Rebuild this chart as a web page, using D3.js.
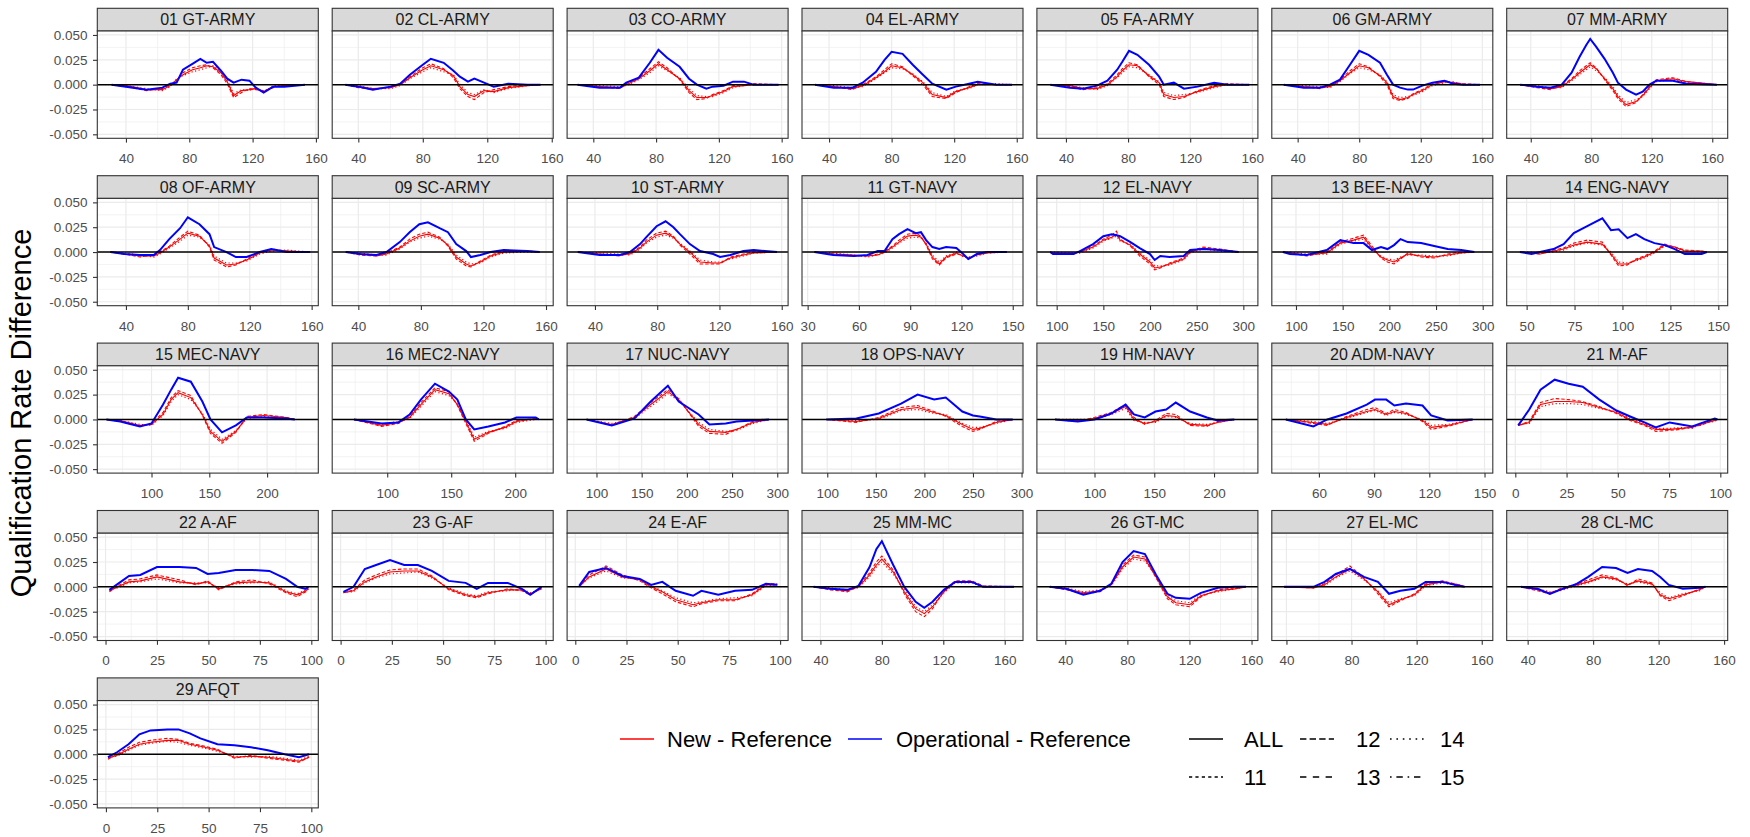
<!DOCTYPE html>
<html>
<head>
<meta charset="utf-8" />
<title>Qualification Rate Difference</title>
<script src="https://cdn.jsdelivr.net/npm/d3@7"></script>
<style>
body { margin: 0; background: #fff; }
svg text { font-family: "Liberation Sans", Arial, sans-serif; }
</style>
</head>
<body>
<svg id="chart" width="1750" height="837"></svg>
<script>
// facet titles
const panelNames = ['01 GT-ARMY','02 CL-ARMY','03 CO-ARMY','04 EL-ARMY','05 FA-ARMY','06 GM-ARMY','07 MM-ARMY',
  '08 OF-ARMY','09 SC-ARMY','10 ST-ARMY','11 GT-NAVY','12 EL-NAVY','13 BEE-NAVY','14 ENG-NAVY',
  '15 MEC-NAVY','16 MEC2-NAVY','17 NUC-NAVY','18 OPS-NAVY','19 HM-NAVY','20 ADM-NAVY','21 M-AF',
  '22 A-AF','23 G-AF','24 E-AF','25 MM-MC','26 GT-MC','27 EL-MC','28 CL-MC','29 AFQT'];

// visible x range of each facet (free scales)
const xLimits = [[21.9,161.5],[23.8,160.9],[23.3,164.1],[22.7,164],[21.3,163.6],[23.2,166.8],[24.1,170.2],
  [21.5,164.3],[23.3,164.6],[22.1,164.1],[26.7,156],[78.8,315.6],[74.1,310.8],[39.6,154.9],
  [53.1,244.3],[57,229.7],[67.5,312],[74,301.5],[51.8,236.7],[34.4,154.5],[-4.2,103.6],
  [-4,103.4],[-4.1,103.7],[-4,103.9],[28,171.9],[21.7,164.1],[31,166.8],[27.2,162.2],[-4.2,103.4]];

const army = [40,80,120,160], pct = [0,25,50,75,100], big = [100,150,200,250,300], mid = [100,150,200];
const xTicks = [army,army,army,army,army,army,army,
  army,army,army,[30,60,90,120,150],big,big,[50,75,100,125,150],
  mid,mid,big,big,mid,[60,90,120,150],pct,
  pct,pct,pct,army,army,army,army,pct];

const yTicks = [-0.05,-0.025,0,0.025,0.05];

// cut scores (x) for each facet
const cutX = [
  [31,40,53,63,68,72,76,82,87,91,95,100,104,108,113,118,122,127,133,140,153],
  [32,40,49,60,66,72,80,85,93,99,103,108,112,118,124,133,145,153],
  [30,44,57,61,69,76,81.5,87,95,101,106,112,116,123,129,136,142,158],
  [31,43,55,61.5,70,75.5,80,87,93.5,100,106,115,121,129.5,135,147,157],
  [30,42.6,51,60,66.7,73,76.3,80.6,86,93.5,100,103,109.5,116,124.7,135.4,144,158],
  [31,44,54.5,61,67.5,74,80,86,93.5,98,102,106.5,111.6,115,121,127.6,135.4,141,147.5,158.5],
  [33,44,53,60.5,67,72.3,76.7,79.3,83.3,88.8,94.3,97.6,103,109.6,114,118.5,123,134,143,163],
  [30,39,49,58,62,68,75,80,87.5,94,97,105,111,118,126.5,134,144,159],
  [32,41,51.6,58,66.5,72.8,79,84.5,92,97.3,102.6,109,112,118,124.6,133,148,156],
  [29,43,56,62.5,69,73,79.6,85.4,90.4,94.6,101,107.5,116,120.4,127,135.4,142,157],
  [34,45,57,65,71,75,79.6,83.5,88.4,93.3,96.3,99.3,103,107,111,117,121,124,129,135,146.5],
  [93,96,118,125,139,150,159,164,168,179,189,200,205,211,221,236,243,257,275,295],
  [86,93.5,111.5,133,147.5,161.6,172.4,181.4,191,198,205,212,219.7,234,248,262.5,277,291],
  [46.5,52.6,57,64,69.3,74.6,81.6,89.5,94,98,102.6,107,111.4,116.7,122,127.3,132.5,141.3,144],
  [61,73,90,100,110,117,123,134,144,151,161,173,182.5,197,216.5,224],
  [74,95.6,108.8,117.5,126.3,137.3,148.2,154.8,161.4,168,179,192,201,216,218.4],
  [89,117,142,160,179,191,213,225,243,255,273,291],
  [99,130,153,176,193,210,222,239,250,257,274,291],
  [67,86,100,114,126,133,142,151,160,168,180,194,203,217],
  [42,57,64.6,75,86,90.5,96.6,101,107.3,116.3,121,130,143.6],
  [1.4,6.8,12.3,19.2,26,32.9,41,49.3,56,63,68.5,75.3,80.8,86.3,90.4,97.3,98.6],
  [1.9,6,11.4,16.9,25,36,44,49.6,55,63.2,71.4,79.6,87.7,93.2,97.3,98.6],
  [1.4,6.3,11.8,17.3,24.1,31,37.7,44.5,52.7,61,66.4,71.9,81.5,88.4,92.5,98],
  [1.9,6.8,15,23,31.5,37,42.5,49,57.5,61.6,69.8,78,86.3,93,98.6],
  [35.6,46.5,57.5,64.8,72,76.4,80,87.4,94.6,102,107.6,113,120.4,127.7,138.5,146,166],
  [30,40.7,51.6,62.4,69.6,76.9,84,91.3,98.5,105.8,111.2,120.2,127.4,138.3,149.2,156.4],
  [38.6,56.6,63.4,70.3,79,87.6,96.2,103,110,118.6,125.5,135.9,146,149.5],
  [36,46,53.6,59.7,70,77,85.5,94,101,107.4,116,121,126.2,134.8,145,148.6],
  [1,5.4,11,16.3,21.7,30,35.3,40.8,46,54.3,62.5,70.6,78.8,87,94,98.9]
];

// Operational - Reference, ALL
const operAll = [
  [0,-.002,-.005,-.003,.001,.002,.015,.021,.026,.022,.023,.014,.006,.002,.005,.004,-.003,-.008,-.002,-.002,0],
  [0,-.002,-.005,-.002,.001,.010,.020,.026,.022,.014,.008,.003,.006,.002,-.002,.001,0,0],
  [0,-.003,-.003,.002,.007,.022,.035,.027,.018,.006,0,-.004,-.002,-.001,.003,.003,0,0],
  [0,-.003,-.003,.002,.013,.025,.033,.031,.020,.010,.001,-.005,-.002,.001,.003,0,0],
  [0,-.003,-.004,-.001,.004,.015,.023,.034,.030,.020,.008,0,.002,-.004,-.002,.002,0,0],
  [0,-.003,-.003,0,.005,.020,.034,.030,.022,.010,0,-.003,-.005,-.005,-.001,.002,.004,.001,0,0],
  [0,-.002,-.003,0,.012,.028,.040,.046,.038,.026,.012,.002,-.005,-.010,-.007,0,.004,.004,.001,0],
  [0,-.002,-.003,-.003,.002,.013,.024,.035,.028,.018,.005,0,-.005,-.005,0,.003,0,0],
  [0,-.002,-.003,0,.010,.020,.028,.030,.024,.020,.008,.001,-.005,-.003,0,.002,.001,0],
  [0,-.003,-.003,0,.008,.015,.026,.031,.025,.018,.008,.001,-.002,-.005,-.003,.001,.002,0],
  [0,-.003,-.004,-.003,.001,.001,.013,.018,.023,.019,.020,.012,.005,.003,.005,.004,-.002,-.007,-.002,0,0],
  [0,-.002,-.002,.001,.008,.016,.018,.017,.016,.010,.004,-.002,-.008,-.004,-.005,-.004,.002,.003,.002,0],
  [0,-.002,-.003,.002,.012,.009,.009,.002,.005,.003,.007,.013,.010,.009,.006,.003,.002,0],
  [0,-.002,0,.003,.008,.019,.026,.034,.022,.023,.014,.018,.013,.009,.007,.003,-.002,-.002,0],
  [0,-.002,-.007,-.004,.015,.030,.042,.038,.018,0,-.013,-.006,.002,.002,.001,0],
  [0,-.004,-.003,.005,.020,.036,.028,.020,0,-.010,-.007,-.003,.002,.002,0],
  [0,-.006,.001,.018,.034,.018,.005,-.005,-.004,-.002,-.001,0],
  [0,.001,.006,.016,.025,.020,.022,.008,.004,.003,0,0],
  [0,-.002,0,.006,.015,.005,.002,.008,.010,.017,.008,.002,-.001,0],
  [0,-.007,0,.006,.015,.020,.020,.014,.016,.014,.004,-.001,0],
  [-.006,.010,.030,.040,.036,.033,.020,.009,.003,-.003,-.008,-.003,-.005,-.007,-.004,.001,0],
  [-.003,.003,.011,.012,.020,.020,.019,.013,.014,.017,.017,.016,.008,0,-.002,0],
  [-.005,0,.018,.022,.027,.022,.022,.016,.006,.004,-.002,.004,.004,-.002,-.008,0],
  [.001,.015,.019,.011,.008,.002,.005,-.004,-.009,-.004,-.008,-.004,-.003,.003,.002],
  [0,-.002,-.003,.001,.020,.038,.046,.022,0,-.015,-.021,-.015,-.003,.005,.005,0,0],
  [0,-.002,-.008,-.004,.003,.025,.036,.033,.012,-.007,-.011,-.012,-.006,-.001,0,0],
  [0,0,.005,.013,.018,.010,.005,-.007,-.004,-.002,.005,.005,.001,0],
  [0,-.002,-.007,-.003,.003,.010,.020,.019,.014,.018,.016,.010,.002,-.002,-.001,0],
  [-.003,.002,.010,.020,.024,.025,.025,.021,.016,.010,.009,.007,.004,0,-.003,0]
];

// New - Reference, ALL
const newAll = [
  [0,-.001,-.005,-.005,-.001,.005,.010,.015,.017,.019,.018,.012,.003,-.011,-.006,-.005,-.004,-.007,-.002,-.001,0],
  [0,-.002,-.004,-.003,0,.007,.015,.019,.015,.009,-.002,-.010,-.012,-.006,-.007,-.003,-.001,0],
  [0,-.002,-.003,0,.006,.014,.021,.015,.006,-.006,-.013,-.013,-.011,-.007,-.002,-.001,0,0],
  [0,-.002,-.004,-.001,.007,.013,.019,.017,.010,.002,-.010,-.013,-.007,-.003,0,0,0],
  [0,-.001,-.004,-.004,0,.008,.014,.020,.019,.009,.002,-.010,-.013,-.012,-.007,-.002,0,0],
  [0,-.002,-.003,-.002,.004,.012,.019,.017,.009,.002,-.012,-.015,-.013,-.010,-.006,0,.003,.002,0,0],
  [0,-.002,-.004,-.002,.005,.012,.017,.020,.016,.006,-.004,-.012,-.020,-.017,-.011,-.003,.004,.006,.003,0],
  [0,-.002,-.004,-.004,-.001,.005,.013,.019,.016,.006,-.006,-.013,-.012,-.008,-.001,.002,.001,0],
  [0,-.002,-.004,-.002,.004,.011,.016,.018,.014,.007,-.005,-.012,-.014,-.010,-.004,0,.001,0],
  [0,-.002,-.003,-.002,.004,.010,.017,.019,.015,.008,0,-.010,-.011,-.011,-.006,-.003,-.001,0],
  [0,-.002,-.003,-.004,-.003,0,.005,.010,.016,.017,.015,.008,-.005,-.012,-.005,-.001,-.004,-.006,-.003,-.001,0],
  [0,-.001,-.001,0,.005,.012,.015,.018,.012,.007,-.002,-.010,-.016,-.015,-.012,-.007,0,.004,.002,0],
  [0,-.001,-.003,-.001,.009,.012,.015,.004,-.005,-.008,-.010,-.006,-.002,-.004,-.005,-.003,-.001,0],
  [0,-.001,-.002,.001,.003,.007,.010,.008,-.002,-.012,-.012,-.008,-.005,0,.007,.005,.001,.001,0],
  [0,-.001,-.006,-.005,.005,.020,.027,.022,.005,-.012,-.022,-.012,.002,.004,.002,0],
  [0,-.006,-.003,.002,.015,.030,.026,.015,-.002,-.020,-.013,-.008,-.002,.001,0],
  [0,-.005,.002,.015,.028,.020,-.005,-.012,-.013,-.010,-.003,0],
  [0,-.002,.001,.010,.012,.007,.004,-.005,-.010,-.009,-.003,0],
  [0,-.001,.001,.006,.013,0,-.004,-.002,.004,.003,-.005,-.006,-.003,0],
  [0,-.003,-.005,.002,.008,.010,.005,.008,.006,-.001,-.008,-.006,0],
  [-.006,-.003,.015,.018,.018,.017,.012,.007,0,-.005,-.010,-.010,-.009,-.008,-.005,-.001,0],
  [-.004,0,.005,.006,.010,.005,.003,.005,-.002,.004,.005,.004,-.005,-.008,-.004,-.002],
  [-.006,-.004,.005,.010,.015,.016,.016,.010,-.002,-.008,-.010,-.006,-.003,-.003,-.007,-.002],
  [0,.010,.018,.010,.007,0,-.005,-.013,-.018,-.016,-.013,-.013,-.008,.002,.002],
  [0,-.002,-.004,0,.012,.022,.028,.015,-.005,-.022,-.027,-.020,-.005,.005,.005,0,0],
  [0,-.002,-.006,-.004,.002,.020,.030,.028,.010,-.010,-.016,-.018,-.009,-.004,-.002,0],
  [0,-.001,.002,.010,.018,.008,-.005,-.018,-.013,-.008,.002,.005,.002,0],
  [0,-.003,-.006,-.003,.002,.005,.010,.008,.002,.006,.003,-.008,-.012,-.008,-.003,0],
  [-.004,-.001,.005,.010,.012,.014,.014,.010,.008,.004,-.003,-.002,-.003,-.005,-.007,-.003]
];

// New - Reference, subset 12
const new12 = [
  [0,-.002,-.006,-.004,0,.004,.012,.017,.019,.020,.017,.010,.001,-.013,-.008,-.004,-.005,-.006,-.003,0,0],
  [0,-.003,-.005,-.002,.001,.008,.017,.021,.016,.007,-.004,-.012,-.015,-.008,-.005,-.002,0,0],
  [0,-.002,-.004,.001,.007,.016,.023,.017,.005,-.008,-.015,-.014,-.010,-.006,-.001,0,.001,0],
  [0,-.002,-.005,0,.008,.015,.021,.018,.009,0,-.012,-.014,-.008,-.002,.001,0,0],
  [0,-.002,-.005,-.003,.001,.010,.016,.022,.020,.008,0,-.012,-.015,-.013,-.006,-.001,.001,0],
  [0,-.002,-.004,-.001,.005,.014,.021,.018,.008,0,-.014,-.016,-.014,-.009,-.005,.001,.004,.002,.001,0],
  [0,-.003,-.005,-.001,.006,.014,.019,.022,.017,.005,-.006,-.014,-.022,-.018,-.010,-.002,.005,.007,.003,0],
  [0,-.002,-.005,-.003,0,.006,.015,.021,.017,.005,-.008,-.015,-.013,-.007,0,.003,.001,0],
  [0,-.003,-.004,-.001,.005,.013,.018,.020,.015,.006,-.007,-.014,-.015,-.009,-.003,.001,.001,0],
  [0,-.002,-.004,-.001,.005,.012,.019,.021,.016,.007,-.002,-.012,-.012,-.012,-.005,-.002,0,0],
  [0,-.002,-.004,-.004,-.002,.001,.006,.012,.018,.019,.016,.007,-.007,-.013,-.006,-.002,-.003,-.007,-.002,0,0],
  [0,-.001,-.002,.001,.006,.013,.017,.021,.013,.006,-.004,-.012,-.018,-.016,-.011,-.006,.001,.005,.003,0],
  [0,-.001,-.004,0,.010,.014,.017,.006,-.006,-.010,-.012,-.007,-.001,-.005,-.006,-.002,0,0],
  [0,-.001,-.002,.002,.004,.009,.012,.010,-.003,-.014,-.013,-.007,-.004,.001,.008,.005,.002,.001,0],
  [0,-.002,-.007,-.004,.007,.022,.029,.024,.004,-.014,-.024,-.013,.003,.005,.002,0],
  [0,-.007,-.004,.003,.017,.032,.028,.014,-.004,-.022,-.014,-.007,-.001,.001,0],
  [0,-.006,.003,.017,.030,.021,-.007,-.014,-.015,-.010,-.002,0],
  [0,-.003,.002,.012,.014,.008,.003,-.007,-.012,-.010,-.002,0],
  [0,-.002,.002,.007,.015,.002,-.005,-.001,.006,.005,-.006,-.007,-.002,0],
  [0,-.004,-.006,.003,.010,.012,.006,.010,.007,-.002,-.010,-.007,0],
  [-.006,-.002,.017,.021,.020,.018,.013,.006,-.001,-.006,-.012,-.011,-.010,-.007,-.006,0,0],
  [-.005,.001,.007,.008,.012,.007,.002,.006,-.003,.005,.007,.003,-.006,-.010,-.005,-.002],
  [-.006,-.003,.007,.012,.017,.018,.018,.011,-.003,-.009,-.011,-.007,-.002,-.004,-.008,-.001],
  [0,.012,.021,.012,.006,-.001,-.007,-.015,-.020,-.017,-.014,-.014,-.007,.003,.003],
  [0,-.003,-.005,.001,.014,.025,.031,.017,-.007,-.025,-.030,-.022,-.004,.006,.006,.001,0],
  [0,-.003,-.007,-.005,.003,.022,.032,.030,.009,-.012,-.018,-.020,-.010,-.003,-.001,0],
  [0,-.001,.003,.012,.021,.009,-.007,-.020,-.014,-.007,.003,.006,.002,0],
  [0,-.004,-.007,-.002,.003,.007,.012,.009,.001,.008,.004,-.009,-.014,-.009,-.002,0],
  [-.005,0,.007,.012,.014,.016,.015,.011,.009,.005,-.004,-.001,-.004,-.006,-.008,-.003]
];

// New - Reference, subset 14
const new14 = [
  [0,-.001,-.004,-.006,-.002,.006,.009,.013,.015,.017,.019,.014,.005,-.009,-.005,-.006,-.003,-.008,-.001,-.001,0],
  [0,-.001,-.004,-.004,-.001,.006,.013,.017,.013,.010,0,-.008,-.010,-.005,-.008,-.004,-.001,0],
  [0,-.001,-.002,-.001,.005,.012,.019,.014,.007,-.004,-.011,-.012,-.012,-.008,-.003,-.001,0,0],
  [0,-.001,-.003,-.002,.006,.012,.017,.016,.011,.003,-.008,-.012,-.006,-.004,0,.001,0],
  [0,-.001,-.003,-.005,-.001,.007,.012,.018,.017,.010,.003,-.008,-.011,-.010,-.008,-.003,0,0],
  [0,-.001,-.002,-.003,.003,.011,.017,.015,.010,.003,-.010,-.013,-.012,-.011,-.007,-.001,.002,.003,0,0],
  [0,-.001,-.003,-.003,.004,.010,.015,.018,.014,.007,-.002,-.010,-.018,-.015,-.012,-.004,.003,.005,.002,0],
  [0,-.001,-.003,-.005,-.002,.004,.011,.017,.015,.007,-.004,-.011,-.011,-.009,-.002,.001,.002,0],
  [0,-.001,-.003,-.003,.003,.010,.014,.016,.013,.008,-.003,-.010,-.012,-.011,-.005,-.001,0,0],
  [0,-.001,-.002,-.003,.003,.009,.015,.017,.014,.009,.001,-.008,-.010,-.010,-.007,-.004,-.001,0],
  [0,-.001,-.003,-.005,-.003,-.001,.004,.009,.014,.015,.014,.009,-.003,-.010,-.004,0,-.005,-.005,-.004,-.001,0],
  [0,0,-.001,-.001,.004,.011,.014,.016,.011,.008,-.001,-.008,-.014,-.014,-.013,-.008,-.001,.003,.001,0],
  [0,0,-.002,-.002,.008,.011,.013,.002,-.004,-.007,-.008,-.005,-.003,-.003,-.004,-.004,-.001,0],
  [0,0,-.001,0,.002,.006,.009,.007,0,-.010,-.011,-.009,-.006,-.001,.006,.004,.001,0,0],
  [0,-.001,-.005,-.006,.004,.018,.025,.020,.006,-.010,-.020,-.011,.001,.003,.001,0],
  [0,-.005,-.002,.001,.013,.028,.024,.016,0,-.018,-.012,-.009,-.003,0,0],
  [0,-.004,.001,.013,.026,.019,-.003,-.010,-.012,-.011,-.004,0],
  [0,-.001,0,.009,.010,.006,.005,-.004,-.008,-.008,-.004,0],
  [0,0,0,.005,.011,-.001,-.003,-.003,.003,.002,-.004,-.005,-.003,0],
  [0,-.002,-.004,.001,.007,.009,.004,.007,.005,0,-.006,-.005,0],
  [-.005,-.004,.013,.016,.016,.015,.011,.008,.001,-.004,-.009,-.009,-.008,-.009,-.004,-.002,0],
  [-.003,-.001,.004,.005,.008,.004,.004,.004,-.001,.003,.004,.005,-.004,-.007,-.003,-.001],
  [-.005,-.005,.004,.009,.013,.014,.015,.009,-.001,-.007,-.009,-.005,-.004,-.002,-.006,-.002],
  [.001,.009,.016,.009,.008,.001,-.004,-.011,-.016,-.015,-.012,-.011,-.009,.001,.002],
  [0,-.001,-.003,-.001,.010,.020,.025,.013,-.003,-.020,-.025,-.018,-.006,.004,.004,0,0],
  [0,-.001,-.005,-.003,.001,.018,.028,.026,.011,-.008,-.014,-.016,-.008,-.005,-.002,0],
  [0,0,.001,.009,.016,.007,-.004,-.016,-.012,-.009,.001,.004,.001,0],
  [0,-.002,-.005,-.004,.001,.004,.009,.007,.003,.005,.002,-.006,-.011,-.007,-.004,0],
  [-.003,-.002,.004,.009,.011,.013,.012,.009,.007,.003,-.002,-.003,-.002,-.004,-.006,-.002]
];

const colorLabels = ['New - Reference', 'Operational - Reference'];
const colorValues = ['#ff0000', '#0000ff'];
const typeLabels = ['ALL', '11', '12', '13', '14', '15'];
const typeDashes = ['none', '2,2', '4,2', '4,4', '1,3', '1,3,4,3'];

// layout
const panelW = 221, stripH = 22.7, plotH = 107.3;
const colStep = 234.9, rowStep = 167.4, firstLeft = 97.3, firstTop = 8.3;
const gridColor = '#ebebeb', borderColor = '#333333', tickText = '#4d4d4d';

const svg = d3.select('#chart');

const yScale = d3.scaleLinear().domain([-0.054, 0.054]).range([plotH, 0]);
const yMinor = [-0.0375, -0.0125, 0.0125, 0.0375];

svg.append('clipPath').attr('id', 'plotClip')
  .append('rect').attr('width', panelW).attr('height', plotH);

panelNames.forEach((name, i) => {
  const col = i % 7, row = Math.floor(i / 7);
  const g = svg.append('g')
    .attr('transform', 'translate(' + (firstLeft + col * colStep) + ',' + (firstTop + row * rowStep) + ')');

  // strip
  g.append('rect')
    .attr('width', panelW).attr('height', stripH)
    .style('fill', '#d9d9d9').style('stroke', borderColor).style('stroke-width', 1.1);
  g.append('text')
    .attr('x', panelW / 2).attr('y', 17.2)
    .attr('text-anchor', 'middle')
    .style('font-size', '16px').style('fill', '#1a1a1a')
    .text(name);

  const p = g.append('g').attr('transform', 'translate(0,' + stripH + ')');
  const xScale = d3.scaleLinear().domain(xLimits[i]).range([0, panelW]);

  p.append('rect').attr('width', panelW).attr('height', plotH).style('fill', '#fff');

  // minor grid
  const ticks = xTicks[i], step = ticks[1] - ticks[0];
  const xMinor = [ticks[0] - step / 2].concat(ticks.map(t => t + step / 2))
    .filter(v => v > xLimits[i][0] && v < xLimits[i][1]);
  p.selectAll('line.xminor').data(xMinor).enter().append('line')
    .attr('x1', d => xScale(d)).attr('x2', d => xScale(d))
    .attr('y1', 0).attr('y2', plotH)
    .style('stroke', gridColor).style('stroke-width', 0.6);
  p.selectAll('line.yminor').data(yMinor).enter().append('line')
    .attr('x1', 0).attr('x2', panelW)
    .attr('y1', d => yScale(d)).attr('y2', d => yScale(d))
    .style('stroke', gridColor).style('stroke-width', 0.6);

  // major grid
  p.selectAll('line.xmajor').data(ticks).enter().append('line')
    .attr('x1', d => xScale(d)).attr('x2', d => xScale(d))
    .attr('y1', 0).attr('y2', plotH)
    .style('stroke', gridColor).style('stroke-width', 1.2);
  p.selectAll('line.ymajor').data(yTicks).enter().append('line')
    .attr('x1', 0).attr('x2', panelW)
    .attr('y1', d => yScale(d)).attr('y2', d => yScale(d))
    .style('stroke', gridColor).style('stroke-width', 1.2);

  // lines
  const lines = p.append('g').attr('clip-path', 'url(#plotClip)');
  const mk = vals => d3.line()
    .x((d, k) => xScale(cutX[i][k]))
    .y(d => yScale(d))(vals);

  lines.append('path').attr('d', mk(new14[i]))
    .style('fill', 'none').style('stroke', colorValues[0]).style('stroke-width', 1.2)
    .style('stroke-dasharray', '1.2,2.4');
  lines.append('path').attr('d', mk(new12[i]))
    .style('fill', 'none').style('stroke', colorValues[0]).style('stroke-width', 1.1)
    .style('stroke-dasharray', '3.5,2');
  lines.append('path').attr('d', mk(newAll[i]))
    .style('fill', 'none').style('stroke', colorValues[0]).style('stroke-width', 1.1);
  lines.append('path').attr('d', mk(operAll[i]))
    .style('fill', 'none').style('stroke', colorValues[1]).style('stroke-width', 2);

  // zero reference line
  p.append('line')
    .attr('x1', 0).attr('x2', panelW)
    .attr('y1', yScale(0)).attr('y2', yScale(0))
    .style('stroke', '#000').style('stroke-width', 1.5);

  // panel border
  p.append('rect').attr('width', panelW).attr('height', plotH)
    .style('fill', 'none').style('stroke', borderColor).style('stroke-width', 1.1);

  // x axis
  const xAxis = d3.axisBottom(xScale).tickValues(ticks).tickSize(4.3).tickPadding(11).tickFormat(d3.format('d'));
  const xa = p.append('g').attr('transform', 'translate(0,' + plotH + ')').call(xAxis);
  xa.select('.domain').remove();
  xa.selectAll('line').style('stroke', borderColor).style('stroke-width', 1.1);
  xa.selectAll('text').style('font-size', '13.5px').style('fill', tickText)
    .style('font-family', '"Liberation Sans", Arial, sans-serif');

  // y axis on first column only
  if (col === 0) {
    const yAxis = d3.axisLeft(yScale).tickValues(yTicks).tickSize(4.3).tickPadding(5.5).tickFormat(d => d.toFixed(3));
    const ya = p.append('g').call(yAxis);
    ya.select('.domain').remove();
    ya.selectAll('line').style('stroke', borderColor).style('stroke-width', 1.1);
    ya.selectAll('text').style('font-size', '13.5px').style('fill', tickText)
      .style('font-family', '"Liberation Sans", Arial, sans-serif');
  }
});

// y axis title
svg.append('text')
  .attr('transform', 'translate(31,413) rotate(-90)')
  .attr('text-anchor', 'middle')
  .style('font-size', '29px').style('fill', '#000')
  .text('Qualification Rate Difference');

// colour legend
const legY1 = 739, legY2 = 777;
const colorLeg = svg.append('g');
[[620, 667], [848, 896]].forEach((pos, k) => {
  colorLeg.append('line')
    .attr('x1', pos[0]).attr('x2', pos[0] + 34).attr('y1', legY1).attr('y2', legY1)
    .style('stroke', colorValues[k]).style('stroke-width', 1.6);
  colorLeg.append('text')
    .attr('x', pos[1]).attr('y', legY1).attr('dy', '0.35em')
    .style('font-size', '22px').style('fill', '#000')
    .text(colorLabels[k]);
});

// linetype legend, filled column by column
const typeCols = [[1189, 1244], [1300, 1356], [1390, 1440]];
typeLabels.forEach((lab, k) => {
  const c = Math.floor(k / 2), r = k % 2;
  const yy = r === 0 ? legY1 : legY2;
  colorLeg.append('line')
    .attr('x1', typeCols[c][0]).attr('x2', typeCols[c][0] + 34).attr('y1', yy).attr('y2', yy)
    .style('stroke', '#000').style('stroke-width', 1.6)
    .style('stroke-dasharray', typeDashes[k] === 'none' ? null : typeDashes[k].split(',').map(v => v * 1.6).join(','));
  colorLeg.append('text')
    .attr('x', typeCols[c][1]).attr('y', yy).attr('dy', '0.35em')
    .style('font-size', '22px').style('fill', '#000')
    .text(lab);
});
</script>
</body>
</html>
